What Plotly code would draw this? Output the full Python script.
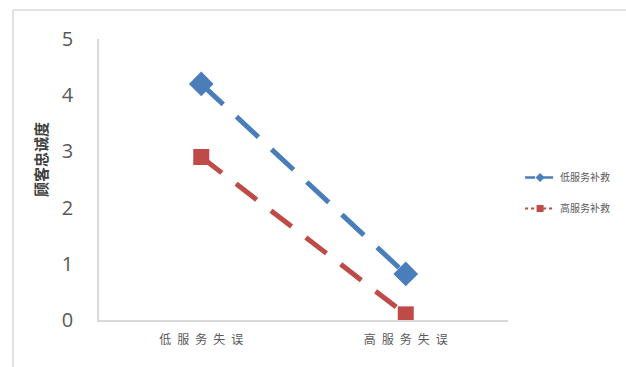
import plotly.graph_objects as go

categories = ["低服务失误", "高服务失误"]
tick_labels = ["低\u2002服\u2002务\u2002失\u2002误", "高\u2002服\u2002务\u2002失\u2002误"]
series_names = ["低服务补救", "高服务补救"]
low_recovery = [4.2, 0.82]
high_recovery = [2.9, 0.1]
y_title = "顾客忠诚度"

blue = "#4a7ebb"
red = "#be4b48"

fig = go.Figure()
fig.add_trace(go.Scatter(
    x=categories, y=low_recovery, mode="lines+markers", showlegend=False,
    line=dict(color=blue, width=5, dash="30px,18px"),
    marker=dict(symbol="diamond", size=19, color=blue),
))
fig.add_trace(go.Scatter(
    x=categories, y=high_recovery, mode="lines+markers", showlegend=False,
    line=dict(color=red, width=5, dash="26px,18px"),
    marker=dict(symbol="square", size=16, color=red),
))
# legend entries (styled as in the reference legend)
fig.add_trace(go.Scatter(
    x=[None], y=[None], mode="lines+markers", name=series_names[0], legendgroup="a",
    line=dict(color=blue, width=2.5, dash="10px,8px"),
    marker=dict(symbol="diamond", size=7, color=blue),
))
fig.add_trace(go.Scatter(
    x=[None], y=[None], mode="lines+markers", name=series_names[1], legendgroup="b",
    line=dict(color=red, width=2, dash="dot"),
    marker=dict(symbol="square", size=7, color=red),
))

fig.update_layout(
    width=626, height=367,
    margin=dict(l=99, r=118, t=39, b=47, autoexpand=False),
    paper_bgcolor="white", plot_bgcolor="white",
    font=dict(family="Noto Sans CJK SC, Noto Sans", color="#595959"),
    legend=dict(
        x=1.01 + 8 / 409, xanchor="left", y=(320 - 193) / 281, yanchor="middle",
        font=dict(size=10, color="#595959", family="Noto Sans CJK SC"),
        tracegroupgap=12,
        bgcolor="rgba(0,0,0,0)",
    ),
    xaxis=dict(
        type="category", range=[-0.5, 1.5],
        tickvals=categories, ticktext=tick_labels,
        showline=True, linecolor="#d9d9d9", linewidth=1.5,
        showgrid=False, zeroline=False, ticks="",
        ticklabelstandoff=8,
        tickfont=dict(size=12, color="#595959", family="Noto Sans CJK SC"),
    ),
    yaxis=dict(
        range=[0, 5], dtick=1, tick0=0,
        showline=True, linecolor="#d9d9d9", linewidth=1.5,
        showgrid=False, zeroline=False, ticks="",
        ticklabelstandoff=20,
        tickfont=dict(size=20, color="#595959", family="Open Sans"),
    ),
    annotations=[
        dict(text="<b>" + y_title + "</b>", textangle=-90, showarrow=False,
             xref="paper", yref="paper", x=(40 - 99) / 409, y=(320 - 160) / 281,
             xanchor="center", yanchor="middle",
             font=dict(size=15, color="#404040", family="Noto Sans CJK SC")),
    ],
    shapes=[
        dict(type="line", xref="paper", yref="paper",
             x0=(13 - 99) / 409, x1=(13 - 99) / 409, y0=(320 - 10) / 281, y1=(320 - 380) / 281,
             line=dict(color="#d9d9d9", width=1.5)),
        dict(type="line", xref="paper", yref="paper",
             x0=(13 - 99) / 409, x1=(640 - 99) / 409, y0=(320 - 10) / 281, y1=(320 - 10) / 281,
             line=dict(color="#d9d9d9", width=1.5)),
    ],
)

fig.write_html("out.html")
